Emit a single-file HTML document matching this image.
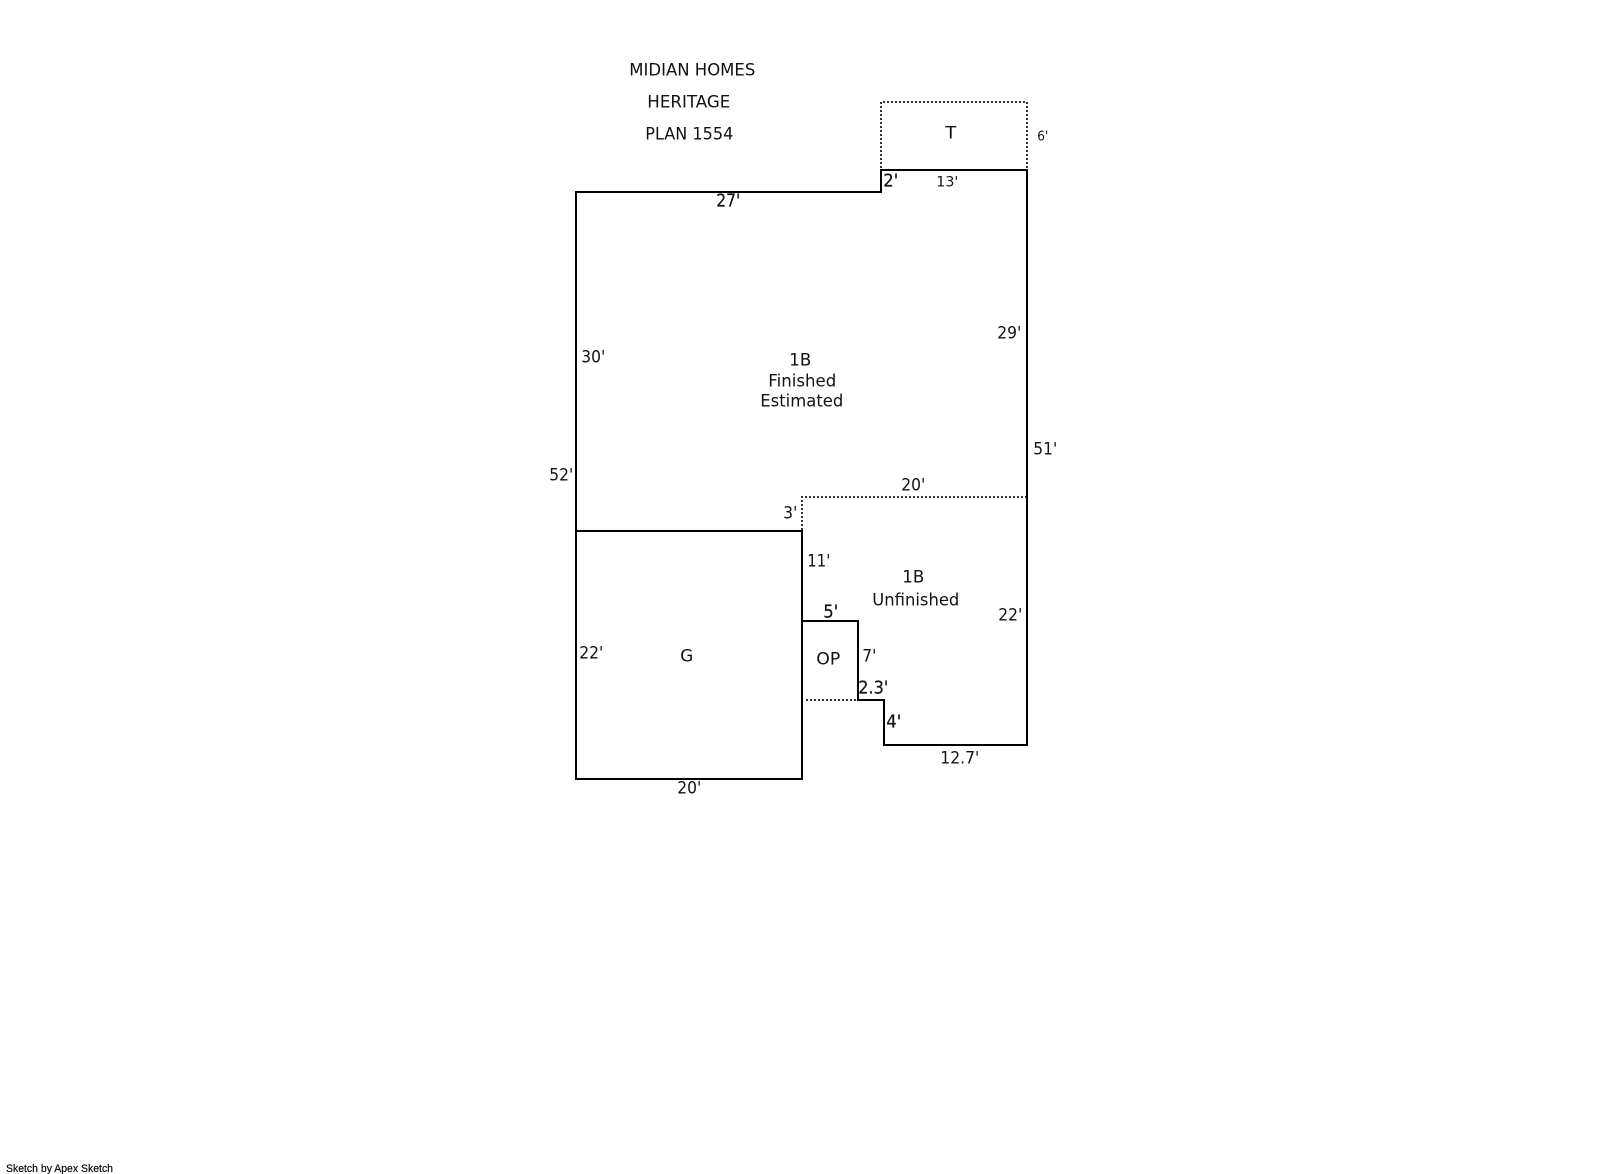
<!DOCTYPE html>
<html>
<head>
<meta charset="utf-8">
<title>Midian Homes Heritage Plan 1554</title>
<style>
html,body{margin:0;padding:0;background:#fff;}
svg{display:block;}
text{font-family:"DejaVu Sans",Verdana,sans-serif;font-size:17px;fill:#111;}
.s{font-size:14px;}
.x{font-size:13px;}
.b{font-size:18px;stroke:#111;stroke-width:.2px;}
.f{font-family:"Liberation Sans",sans-serif;font-size:11px;fill:#000;stroke:#000;stroke-width:.15px;}
</style>
</head>
<body>
<svg width="1601" height="1174" viewBox="0 0 1601 1174" xmlns="http://www.w3.org/2000/svg">
<rect width="1601" height="1174" fill="#fff"/>
<g fill="none" stroke="#000" stroke-width="2" shape-rendering="crispEdges">
<path d="M576 192H881V170H1027V745H884V700H858V621H802M802 531V779H576V192M576 531H802M802 621V700" stroke-linejoin="miter" stroke-linecap="square"/>
</g>
<g fill="none" stroke="#333" stroke-width="2" stroke-dasharray="2 2" shape-rendering="crispEdges">
<path d="M885 168V102H1031V168" transform="translate(-4 0)"/>
<path d="M802 530V497H1026"/>
<path d="M806 700H857"/>
</g>
<g transform="translate(-0.7 -0.7)">
<text x="630" y="76" textLength="126" lengthAdjust="spacingAndGlyphs">MIDIAN HOMES</text>
<text x="648" y="108" textLength="83" lengthAdjust="spacingAndGlyphs">HERITAGE</text>
<text x="646" y="140" textLength="88" lengthAdjust="spacingAndGlyphs">PLAN 1554</text>
<text x="946" y="139" textLength="11" lengthAdjust="spacingAndGlyphs">T</text>
<text class="x" x="1038" y="141" textLength="11" lengthAdjust="spacingAndGlyphs">6'</text>
<text class="b" x="884" y="187" textLength="15" lengthAdjust="spacingAndGlyphs">2'</text>
<text class="s" x="937" y="187" textLength="22" lengthAdjust="spacingAndGlyphs">13'</text>
<text class="b" x="717" y="207" textLength="24" lengthAdjust="spacingAndGlyphs">27'</text>
<text x="582" y="363" textLength="24" lengthAdjust="spacingAndGlyphs">30'</text>
<text x="998" y="339" textLength="24" lengthAdjust="spacingAndGlyphs">29'</text>
<text x="1034" y="455" textLength="24" lengthAdjust="spacingAndGlyphs">51'</text>
<text x="790" y="366" textLength="22" lengthAdjust="spacingAndGlyphs">1B</text>
<text x="769" y="387" textLength="68" lengthAdjust="spacingAndGlyphs">Finished</text>
<text x="761" y="407" textLength="83" lengthAdjust="spacingAndGlyphs">Estimated</text>
<text x="550" y="481" textLength="24" lengthAdjust="spacingAndGlyphs">52'</text>
<text x="784" y="519" textLength="14" lengthAdjust="spacingAndGlyphs">3'</text>
<text x="808" y="567" textLength="23" lengthAdjust="spacingAndGlyphs">11'</text>
<text class="b" x="824" y="618" textLength="15" lengthAdjust="spacingAndGlyphs">5'</text>
<text x="580" y="659" textLength="24" lengthAdjust="spacingAndGlyphs">22'</text>
<text x="681" y="662" textLength="13" lengthAdjust="spacingAndGlyphs">G</text>
<text x="678" y="794" textLength="24" lengthAdjust="spacingAndGlyphs">20'</text>
<text x="902" y="491" textLength="24" lengthAdjust="spacingAndGlyphs">20'</text>
<text x="903" y="583" textLength="22" lengthAdjust="spacingAndGlyphs">1B</text>
<text x="873" y="606" textLength="87" lengthAdjust="spacingAndGlyphs">Unfinished</text>
<text x="999" y="621" textLength="24" lengthAdjust="spacingAndGlyphs">22'</text>
<text x="817" y="665" textLength="24" lengthAdjust="spacingAndGlyphs">OP</text>
<text x="863" y="662" textLength="14" lengthAdjust="spacingAndGlyphs">7'</text>
<text class="b" x="859" y="694" textLength="30" lengthAdjust="spacingAndGlyphs">2.3'</text>
<text class="b" x="887" y="728" textLength="15" lengthAdjust="spacingAndGlyphs">4'</text>
<text x="941" y="764" textLength="39" lengthAdjust="spacingAndGlyphs">12.7'</text>
</g>
<text class="f" x="6" y="1172" textLength="107" lengthAdjust="spacingAndGlyphs">Sketch by Apex Sketch</text>
</svg>
</body>
</html>
